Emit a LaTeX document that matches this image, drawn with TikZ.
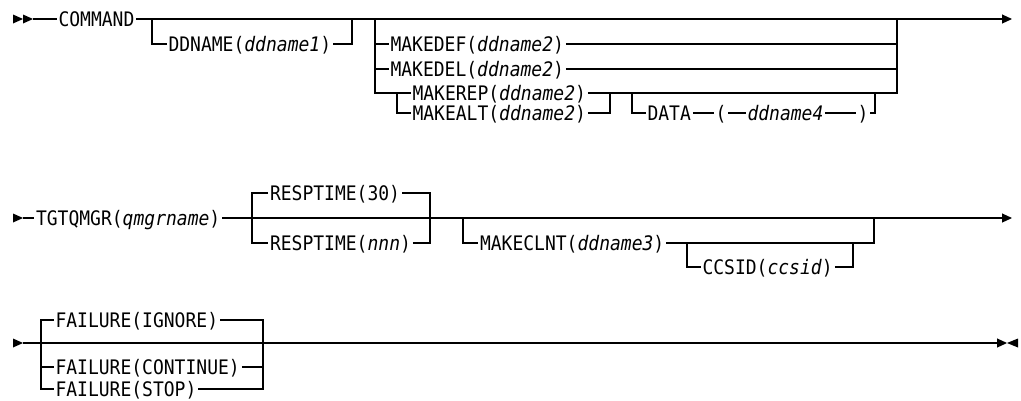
\documentclass[tikz,border=0pt]{standalone}
\usepackage{fontspec}
\setmainfont{DejaVu Sans Mono}[FakeStretch=0.9]
\usetikzlibrary{arrows.meta}

\tikzset{
  kw/.style={anchor=west, inner xsep=1.5pt, inner ysep=0pt,
    text height=14.6pt, text depth=0pt,
    font=\fontsize{20}{22}\selectfont},
  tip/.style={-{Triangle[length=10pt,width=9pt]}},
}

\begin{document}
\begin{tikzpicture}[x=1pt, y=-1pt, line width=1.1pt]
    \useasboundingbox (0,0) rectangle (1021,400);

    % first line
    \fill (13,14.5) -- (23,19) -- (13,23.5) -- cycle;
    \fill (23,14.5) -- (33,19) -- (23,23.5) -- cycle;
    \coordinate (a0) at (33,19);
    \node[kw] (cmd) at (56.5,19) {COMMAND};
    \coordinate (a1) at (1012,19);
    \draw (a0) -- (cmd);
    \draw[tip] (cmd) -- (a1);

    \coordinate (b1) at (152,19);
    \coordinate (b2) at (352,19);
    \node[kw] (ddn) at (166.5,44) {DDNAME(\textit{ddname1})};
    \draw (b1) |- (ddn);
    \draw (ddn) -| (b2);

    \coordinate (c1) at (375,19);
    \coordinate (c2) at (897,19);
    \node[kw] (mdef) at (388.5,44) {MAKEDEF(\textit{ddname2})};
    \node[kw] (mdel) at (388.5,69) {MAKEDEL(\textit{ddname2})};
    \draw (c1) |- (mdef);
    \draw (mdef) -| (c2);
    \draw (c1) |- (mdel);
    \draw (mdel) -| (c2);

    \coordinate (c3) at (397,93);
    \coordinate (c4) at (610,93);
    \coordinate (c5) at (632,93);
    \coordinate (c6) at (875,93);
    \node[kw] (mrep) at (410.5,93) {MAKEREP(\textit{ddname2})};
    \node[kw] (malt) at (410.5,113) {MAKEALT(\textit{ddname2})};
    \draw (c1) |- (c3) -- (mrep);
    \draw (mrep) -- (c4) -- (c5) -- (c6) -| (c2);
    \draw (c3) |- (malt);
    \draw (malt) -| (c4);

    \node[kw] (data) at (645.5,113) {DATA};
    \node[kw] (lpar) at (713.5,113) {(};
    \node[kw] (dn4) at (745.5,113) {\textit{ddname4}};
    \node[kw] (rpar) at (855.5,113) {)};
    \draw (c5) |- (data);
    \draw (data) -- (lpar);
    \draw (lpar) -- (dn4);
    \draw (dn4) -- (rpar);
    \draw (rpar) -| (c6);

    % second line
    \fill (13,213.5) -- (23,218) -- (13,222.5) -- cycle;
    \coordinate (d0) at (23,218);
    \node[kw] (tgt) at (34,218) {TGTQMGR(\textit{qmgrname})};
    \coordinate (d1) at (1012,218);
    \draw (d0) -- (tgt);
    \draw[tip] (tgt) -- (d1);

    \coordinate (e1) at (252,218);
    \coordinate (e2) at (430,218);
    \node[kw] (r30) at (268,193) {RESPTIME(30)};
    \node[kw] (rnnn) at (268,243) {RESPTIME(\textit{nnn})};
    \draw (r30) -| (e1) |- (rnnn);
    \draw (r30) -| (e2);
    \draw (rnnn) -| (e2);

    \coordinate (f1) at (463,218);
    \coordinate (f2) at (874,218);
    \node[kw] (mcl) at (478,243) {MAKECLNT(\textit{ddname3})};
    \draw (f1) |- (mcl);
    \draw (mcl) -| (f2);

    \coordinate (g1) at (687,243);
    \coordinate (g2) at (853,243);
    \node[kw] (ccs) at (700.5,267) {CCSID(\textit{ccsid})};
    \draw (g1) |- (ccs);
    \draw (ccs) -| (g2);

    % third line
    \fill (13,338.5) -- (23,343) -- (13,347.5) -- cycle;
    \coordinate (h0) at (23,343);
    \coordinate (h1) at (41,343);
    \coordinate (h2) at (263,343);
    \coordinate (h3) at (1007,343);
    \draw[tip] (h0) -- (h3);
    \fill (1018,338.5) -- (1007,343) -- (1018,347.5) -- cycle;

    \node[kw] (fign) at (53.5,320) {FAILURE(IGNORE)};
    \node[kw] (fcon) at (53.5,367) {FAILURE(CONTINUE)};
    \node[kw] (fstp) at (53.5,389) {FAILURE(STOP)};
    \draw (fign) -| (h1) |- (fstp);
    \draw (h1) |- (fcon);
    \draw (fign) -| (h2);
    \draw (fcon) -| (h2);
    \draw (fstp) -| (h2);

    \coordinate (k1) at (269,343);
    \coordinate (k2) at (291,343);
    \draw[line width=2.4pt] (k1) -- (k2);
\end{tikzpicture}
\end{document}
